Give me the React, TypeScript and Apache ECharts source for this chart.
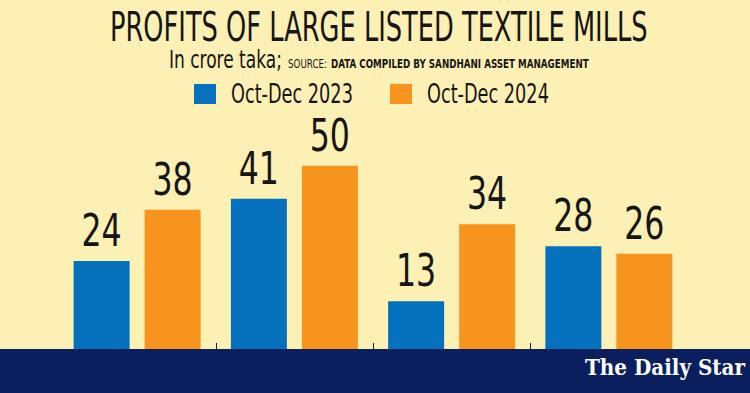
import React, { useEffect, useRef } from "react";
import * as echarts from "echarts";

const categories = ["1", "2", "3", "4"];
const seriesNames = ["Oct-Dec 2023", "Oct-Dec 2024"];
const values2023 = [24, 41, 13, 28];
const values2024 = [38, 50, 34, 26];
const tickBoundaries = [1, 2, 3];
const yMax = 60;

const titleText = "PROFITS OF LARGE LISTED TEXTILE MILLS";
const unitText = "In crore taka;";
const sourceLabel = "SOURCE:";
const sourceText = "DATA COMPILED BY SANDHANI ASSET MANAGEMENT";
const logoText = "The Daily Star";

const NARROW = '"DejaVu Sans Condensed", "DejaVu Sans", sans-serif';
const BG = "#FDF0B4";
const BLUE = "#0570BB";
const ORANGE = "#F7941E";
const NAVY = "#0B1F5F";
const INK = "#161616";
const BAR_W = 56;
const BAR_GAP = 15;
const LABEL_SIZE = 45;
const LABEL_SCALE = 0.78;

function measure(text: string, font: string): number {
  const ctx = document.createElement("canvas").getContext("2d");
  if (!ctx) return 1;
  ctx.font = font;
  return ctx.measureText(text).width || 1;
}

function fitText(
  text: string,
  left: number,
  right: number,
  midY: number,
  size: number,
  weight: string,
  family: string,
  fill: string
) {
  const font = `${weight} ${size}px ${family}`;
  const w = measure(text, font);
  return {
    type: "text",
    x: left,
    y: midY,
    scaleX: (right - left) / w,
    style: {
      text,
      fontSize: size,
      fontWeight: weight,
      fontFamily: family,
      fill,
      align: "left",
      verticalAlign: "middle",
    },
    z: 10,
  };
}

function labelSeries(values: number[], offset: number) {
  return {
    type: "custom",
    data: values.map((v, i) => [i, v]),
    z: 15,
    silent: true,
    renderItem: (params: any, api: any) => {
      const c = api.coord([api.value(0), api.value(1)]);
      return {
        type: "text",
        x: c[0] + offset,
        y: c[1] - 30,
        scaleX: LABEL_SCALE,
        style: {
          text: String(api.value(1)),
          fontSize: LABEL_SIZE,
          fontFamily: NARROW,
          fill: INK,
          align: "center",
          verticalAlign: "middle",
        },
      };
    },
  };
}

export default function App() {
  const ref = useRef<HTMLDivElement>(null);

  useEffect(() => {
    if (!ref.current) return;
    const chart = echarts.init(ref.current, undefined, { renderer: "svg" });

    const legendColors = [BLUE, ORANGE];
    const legendStarts = [194, 390];
    const legendGraphics: any[] = [];
    seriesNames.forEach((name, i) => {
      const x0 = legendStarts[i];
      legendGraphics.push({
        type: "rect",
        shape: { x: x0, y: 84, width: 22, height: 20 },
        style: { fill: legendColors[i] },
        z: 10,
      });
      legendGraphics.push(
        fitText(name, x0 + 37, x0 + 159, 93.5, 26, "normal", NARROW, INK)
      );
    });

    const half = (BAR_W + BAR_GAP) / 2;

    chart.setOption({
      animation: false,
      backgroundColor: BG,
      grid: { left: 58.5, right: 62.5, top: 129, bottom: 44 },
      xAxis: {
        type: "category",
        data: categories,
        axisLine: { show: false },
        axisTick: { show: false },
        axisLabel: { show: false },
      },
      yAxis: {
        type: "value",
        min: 0,
        max: yMax,
        show: false,
        splitLine: { show: false },
      },
      series: [
        {
          name: seriesNames[0],
          type: "bar",
          data: values2023,
          barWidth: BAR_W,
          barGap: `${(BAR_GAP / BAR_W) * 100}%`,
          itemStyle: { color: BLUE },
        },
        {
          name: seriesNames[1],
          type: "bar",
          data: values2024,
          barWidth: BAR_W,
          barGap: `${(BAR_GAP / BAR_W) * 100}%`,
          itemStyle: { color: ORANGE },
        },
        labelSeries(values2023, -half),
        labelSeries(values2024, half),
        {
          type: "custom",
          data: tickBoundaries.map((i) => [i, 0]),
          z: 20,
          silent: true,
          renderItem: (params: any, api: any) => {
            const c = api.coord([api.value(0), 0]);
            const w = api.size([1, 0])[0];
            const x = Math.round(c[0] - w / 2) + 0.5;
            return {
              type: "line",
              shape: { x1: x, y1: c[1] - 6, x2: x, y2: c[1] },
              style: { stroke: "#222", lineWidth: 1 },
            };
          },
        },
      ],
      graphic: [
        {
          type: "rect",
          shape: { x: 0, y: 349, width: 750, height: 44 },
          style: { fill: NAVY },
          z: 5,
        },
        fitText(titleText, 110, 648, 27.5, 40, "normal", NARROW, INK),
        fitText(unitText, 169, 282, 59.5, 24, "normal", NARROW, INK),
        fitText(sourceLabel, 288, 327, 64, 12, "normal", NARROW, INK),
        fitText(sourceText, 331, 589, 64, 12.5, "bold", NARROW, INK),
        ...legendGraphics,
        fitText(logoText, 585, 745, 367, 22, "bold", '"DejaVu Serif", "Liberation Serif", serif', "#FFFFFF"),
      ],
    });

    return () => chart.dispose();
  }, []);

  return (
    <div
      ref={ref}
      style={{ position: "fixed", left: 0, top: 0, width: 750, height: 393 }}
    />
  );
}
